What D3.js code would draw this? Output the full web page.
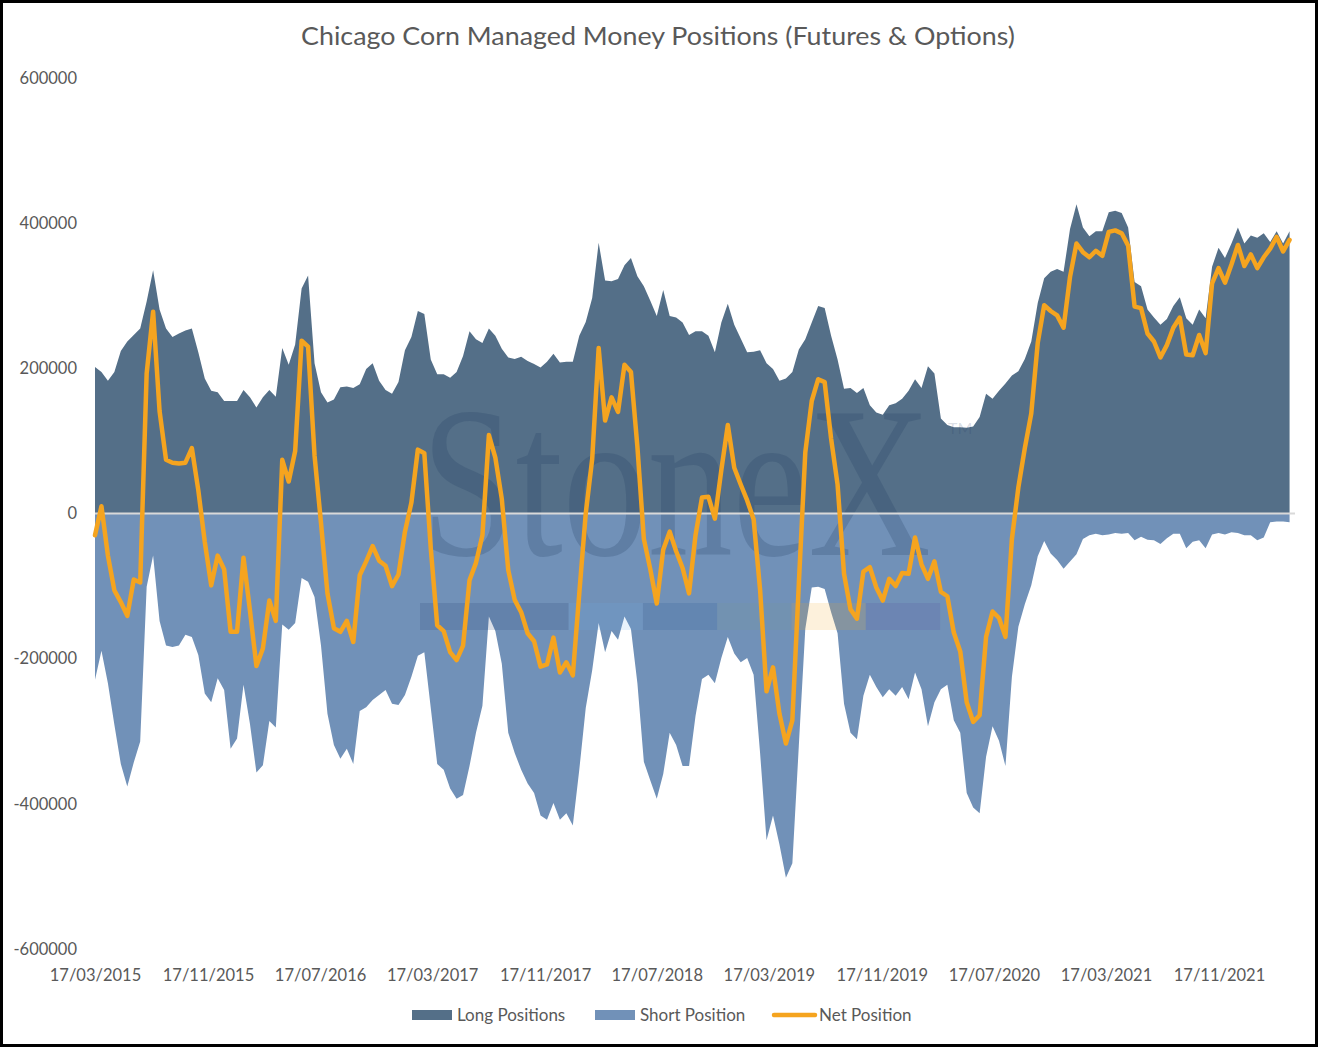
<!DOCTYPE html>
<html>
<head>
<meta charset="utf-8">
<script src="https://cdn.jsdelivr.net/npm/d3@7"></script>
<style>
  body { margin: 0; background: #fff; }
  svg { display: block; font-family: Lato, "Open Sans", sans-serif; }
</style>
</head>
<body>
<div id="chart"></div>
<script>
// fortnightly readings starting 17/03/2015
const startDate = "17/03/2015";
const stepDays = 14;

const tickLabels = ["17/03/2015", "17/11/2015", "17/07/2016", "17/03/2017", "17/11/2017",
  "17/07/2018", "17/03/2019", "17/11/2019", "17/07/2020", "17/03/2021", "17/11/2021"];

const yTicks = [-600000, -400000, -200000, 0, 200000, 400000, 600000];

const longPositions = [
  202000, 195000, 183000, 195000, 224000, 237000, 246000, 255000, 292000, 335000,
  281000, 255000, 243000, 248000, 252000, 255000, 222000, 186000, 169000, 167000,
  155000, 155000, 155000, 170000, 160000, 146000, 160000, 170000, 161000, 228000,
  205000, 233000, 310000, 328000, 207000, 167000, 153000, 157000, 174000, 175000,
  173000, 178000, 199000, 207000, 183000, 170000, 165000, 181000, 225000, 243000,
  279000, 275000, 212000, 192000, 192000, 187000, 195000, 217000, 251000, 240000,
  235000, 255000, 245000, 227000, 215000, 213000, 216000, 210000, 206000, 201000,
  209000, 220000, 208000, 209000, 209000, 245000, 264000, 297000, 373000, 321000,
  320000, 323000, 342000, 352000, 327000, 313000, 293000, 272000, 308000, 272000,
  270000, 263000, 246000, 251000, 251000, 245000, 222000, 263000, 289000, 260000,
  241000, 222000, 223000, 225000, 207000, 199000, 183000, 186000, 195000, 226000,
  240000, 263000, 286000, 283000, 245000, 212000, 172000, 173000, 166000, 173000,
  149000, 139000, 136000, 149000, 152000, 158000, 169000, 185000, 173000, 203000,
  193000, 131000, 122000, 119000, 119000, 118000, 120000, 133000, 165000, 158000,
  169000, 179000, 190000, 196000, 213000, 237000, 290000, 324000, 333000, 337000,
  333000, 392000, 426000, 394000, 382000, 389000, 389000, 415000, 417000, 414000,
  394000, 319000, 313000, 281000, 270000, 260000, 268000, 286000, 298000, 269000,
  260000, 281000, 269000, 340000, 366000, 352000, 372000, 394000, 372000, 383000,
  380000, 386000, 374000, 389000, 372000, 389000
];

const shortPositions = [
  -229000, -189000, -234000, -291000, -345000, -376000, -343000, -314000, -101000, -58000,
  -148000, -182000, -184000, -182000, -167000, -170000, -195000, -248000, -260000, -227000,
  -243000, -324000, -310000, -236000, -290000, -357000, -347000, -286000, -295000, -153000,
  -160000, -151000, -89000, -94000, -115000, -182000, -276000, -319000, -338000, -324000,
  -345000, -272000, -267000, -257000, -250000, -243000, -262000, -264000, -250000, -225000,
  -196000, -191000, -268000, -345000, -353000, -379000, -393000, -388000, -348000, -302000,
  -265000, -142000, -162000, -207000, -302000, -330000, -353000, -372000, -385000, -416000,
  -422000, -399000, -422000, -413000, -430000, -353000, -268000, -216000, -151000, -191000,
  -162000, -174000, -142000, -159000, -234000, -342000, -368000, -393000, -359000, -302000,
  -319000, -348000, -348000, -279000, -228000, -222000, -234000, -199000, -170000, -193000,
  -205000, -199000, -222000, -330000, -450000, -416000, -456000, -502000, -482000, -320000,
  -159000, -102000, -101000, -104000, -136000, -165000, -262000, -302000, -311000, -251000,
  -222000, -239000, -253000, -242000, -251000, -239000, -256000, -219000, -242000, -293000,
  -260000, -242000, -236000, -285000, -302000, -385000, -405000, -413000, -335000, -293000,
  -313000, -348000, -225000, -156000, -125000, -99000, -59000, -38000, -55000, -64000,
  -76000, -66000, -56000, -35000, -30000, -28000, -30000, -29000, -27000, -28000,
  -27000, -37000, -32000, -36000, -37000, -42000, -34000, -28000, -28000, -48000,
  -39000, -37000, -48000, -29000, -27000, -29000, -26000, -27000, -30000, -30000,
  -37000, -33000, -12000, -11000, -11000, -12000
];

const netPositions = [
  -30000, 10000, -58000, -106000, -122000, -141000, -91000, -95000, 193000, 278000,
  141000, 74000, 70000, 69000, 70000, 90000, 32000, -39000, -99000, -58000,
  -77000, -163000, -163000, -61000, -134000, -210000, -186000, -120000, -148000, 74000,
  44000, 86000, 238000, 230000, 80000, -13000, -110000, -158000, -163000, -148000,
  -177000, -85000, -66000, -45000, -65000, -72000, -100000, -84000, -25000, 15000,
  88000, 83000, -48000, -154000, -162000, -191000, -202000, -182000, -92000, -68000,
  -30000, 108000, 77000, 20000, -78000, -119000, -136000, -165000, -176000, -211000,
  -208000, -171000, -219000, -205000, -223000, -110000, 0, 75000, 228000, 128000,
  160000, 140000, 205000, 195000, 92000, -35000, -77000, -124000, -50000, -25000,
  -52000, -75000, -110000, -30000, 22000, 23000, -7000, 60000, 122000, 63000,
  40000, 18000, -8000, -105000, -245000, -212000, -276000, -317000, -285000, -97000,
  84000, 155000, 185000, 181000, 103000, 40000, -83000, -132000, -145000, -80000,
  -74000, -102000, -120000, -90000, -100000, -82000, -83000, -33000, -70000, -90000,
  -66000, -108000, -114000, -164000, -190000, -260000, -287000, -278000, -170000, -135000,
  -144000, -170000, -35000, 36000, 90000, 138000, 235000, 287000, 279000, 273000,
  256000, 326000, 372000, 360000, 353000, 362000, 355000, 388000, 390000, 386000,
  369000, 285000, 283000, 248000, 237000, 215000, 232000, 256000, 270000, 219000,
  218000, 246000, 221000, 317000, 338000, 318000, 343000, 370000, 341000, 357000,
  338000, 353000, 365000, 381000, 361000, 377000
];

const seriesNames = ["Long Positions", "Short Position", "Net Position"];
const colors = { long: "#546f88", short: "#7191b8", net: "#f5a41f" };
const logoBarColors = ["#1f3a68", "#1f3a68", "#6fb0e6", "#1f4f90", "#7a9a90", "#f5a623", "#5a4a9a"];

const width = 1318, height = 1047;
const textColor = "#595959";

const parse = d3.utcParse("%d/%m/%Y");
const fmt = d3.utcFormat("%d/%m/%Y");
const t0 = parse(startDate);
const dates = longPositions.map((d, i) => d3.utcDay.offset(t0, i * stepDays));
const tickDates = tickLabels.map(parse);

const x = d3.scaleUtc()
  .domain([tickDates[0], tickDates[tickDates.length - 1]])
  .range([95, 1219]);

const y = d3.scaleLinear()
  .domain([-600000, 600000])
  .range([949, 78]);

const svg = d3.select("#chart").append("svg")
  .attr("width", width)
  .attr("height", height);

svg.append("rect")
  .attr("width", width).attr("height", height)
  .attr("fill", "#fff");

// title
svg.append("text")
  .attr("x", 658).attr("y", 45)
  .attr("text-anchor", "middle")
  .attr("font-size", 25)
  .attr("fill", textColor)
  .attr("textLength", 714)
  .attr("lengthAdjust", "spacingAndGlyphs")
  .text("Chicago Corn Managed Money Positions (Futures & Options)");

// areas
const areaOf = vals => d3.area()
  .x((d, i) => x(dates[i]))
  .y0(y(0))
  .y1(d => y(d))(vals);

svg.append("path")
  .attr("d", areaOf(longPositions))
  .attr("fill", colors.long);

svg.append("path")
  .attr("d", areaOf(shortPositions))
  .attr("fill", colors.short);

// watermark logo (stretched vertically so the word keeps its width)
const wm = svg.append("g").attr("class", "watermark");
wm.append("text")
  .attr("transform", "translate(421,555) scale(1,1.27)")
  .attr("font-family", "'Liberation Serif', 'DejaVu Serif', serif")
  .attr("font-size", 170)
  .attr("fill", "#1f3a60")
  .attr("fill-opacity", 0.22)
  .text("StoneX");
wm.append("text")
  .attr("x", 948).attr("y", 434)
  .attr("font-size", 16)
  .attr("fill", "#1f3a60")
  .attr("fill-opacity", 0.18)
  .text("TM");
wm.selectAll("rect.bar")
  .data(logoBarColors)
  .join("rect")
  .attr("class", "bar")
  .attr("x", (d, i) => 420 + i * 74.3)
  .attr("y", 603)
  .attr("width", 74.3)
  .attr("height", 27)
  .attr("fill", d => d)
  .attr("fill-opacity", 0.16);

// horizontal axis line at zero
svg.append("line")
  .attr("x1", 95).attr("x2", 1295)
  .attr("y1", y(0)).attr("y2", y(0))
  .attr("stroke", "#d9d9d9")
  .attr("stroke-width", 2);

// net line
svg.append("path")
  .datum(netPositions)
  .attr("d", d3.line().x((d, i) => x(dates[i])).y(d => y(d)))
  .attr("fill", "none")
  .attr("stroke", colors.net)
  .attr("stroke-width", 4.5)
  .attr("stroke-linejoin", "round")
  .attr("stroke-linecap", "round");

// axes
const yAxis = d3.axisLeft(y).tickValues(yTicks).tickSize(0).tickPadding(3).tickFormat(d => String(d));
const gy = svg.append("g").attr("transform", "translate(80,0)").call(yAxis);
gy.select(".domain").remove();
gy.selectAll("text").attr("font-size", 16.5).attr("fill", textColor).attr("font-family", "Lato, sans-serif");

const xAxis = d3.axisBottom(x).tickValues(tickDates).tickSize(0).tickPadding(20).tickFormat(fmt);
const gx = svg.append("g").attr("transform", "translate(0,949)").call(xAxis);
gx.select(".domain").remove();
gx.selectAll("text").attr("font-size", 16.5).attr("fill", textColor).attr("font-family", "Lato, sans-serif");

// legend
const legend = svg.append("g").attr("font-size", 17).attr("fill", textColor);
const legendX = [412, 595, 773];
seriesNames.forEach((name, i) => {
  const g = legend.append("g").attr("transform", `translate(${legendX[i]},0)`);
  if (i < 2) {
    g.append("rect").attr("x", 0).attr("y", 1010).attr("width", 40).attr("height", 10)
      .attr("fill", i === 0 ? colors.long : colors.short);
  } else {
    g.append("line").attr("x1", 1).attr("x2", 42).attr("y1", 1015).attr("y2", 1015)
      .attr("stroke", colors.net).attr("stroke-width", 4.5).attr("stroke-linecap", "round");
  }
  g.append("text").attr("x", i < 2 ? 45 : 46).attr("y", 1021).text(name);
});

// outer frame
svg.append("rect")
  .attr("x", 1.5).attr("y", 1.5)
  .attr("width", width - 3).attr("height", height - 3)
  .attr("fill", "none")
  .attr("stroke", "#000")
  .attr("stroke-width", 3);
</script>
</body>
</html>
